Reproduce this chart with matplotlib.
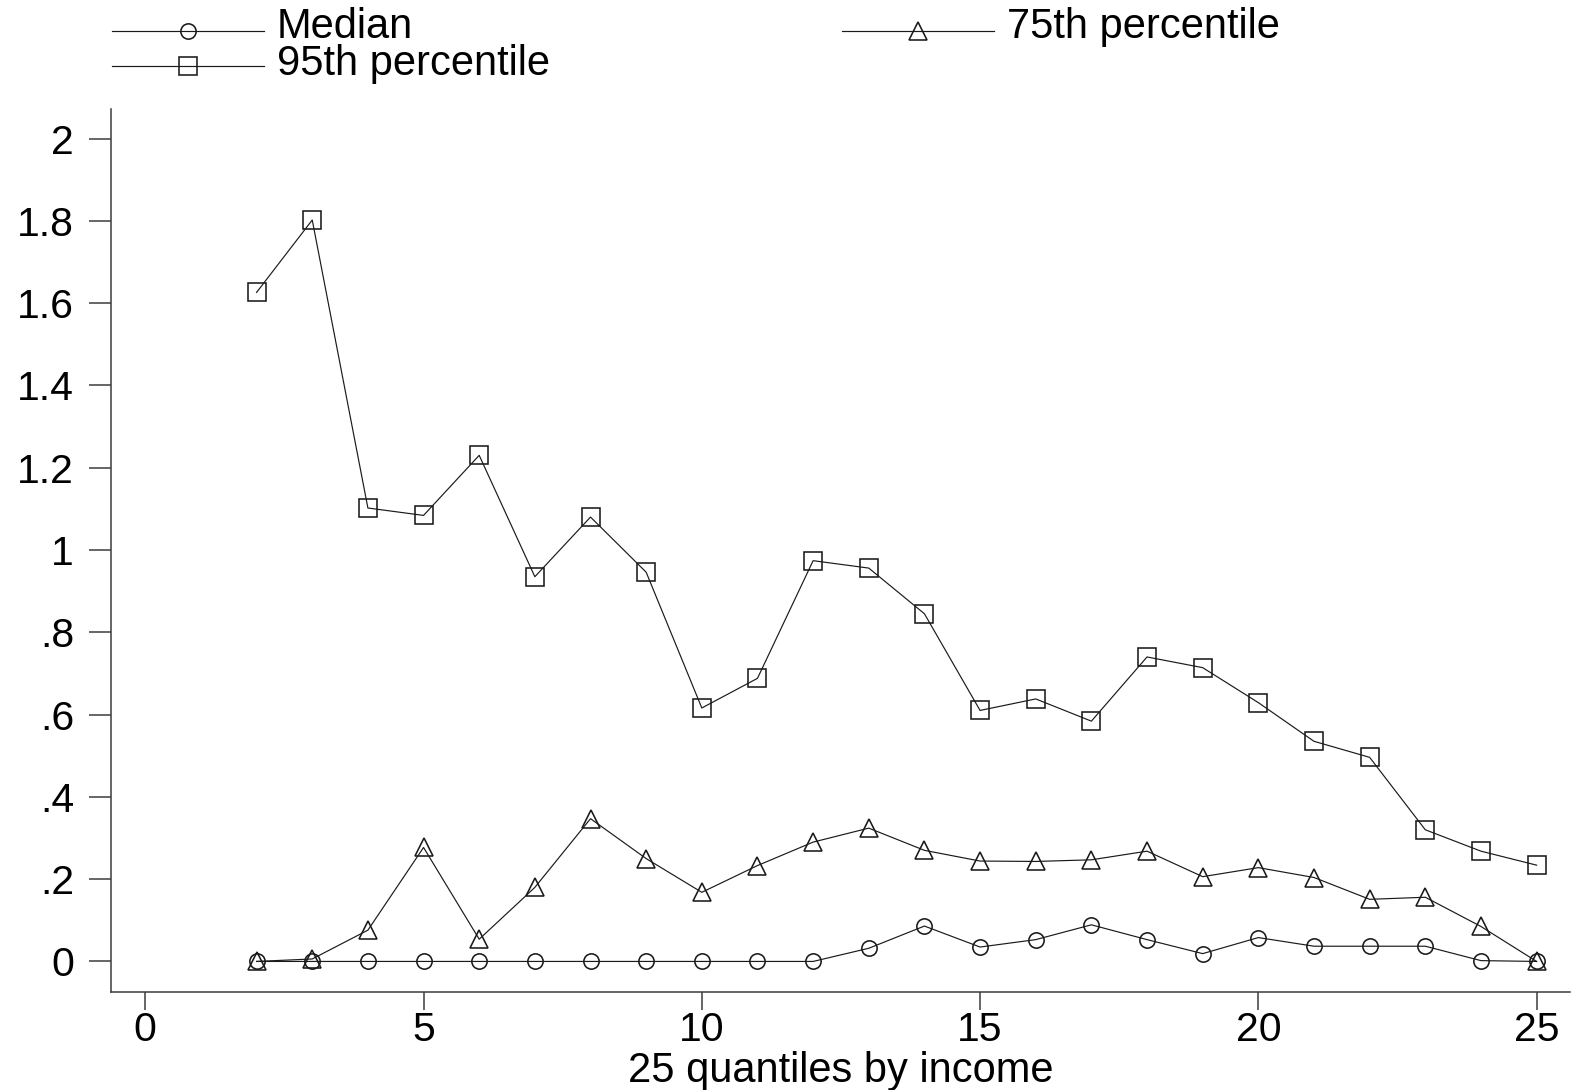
import numpy as np
import matplotlib
matplotlib.use("Agg")
import matplotlib.pyplot as plt
from matplotlib.lines import Line2D

plt.rcParams['font.family'] = ['Liberation Sans', 'DejaVu Sans']

# data
quantile = [2, 3, 4, 5, 6, 7, 8, 9, 10, 11, 12, 13, 14,
            15, 16, 17, 18, 19, 20, 21, 22, 23, 24, 25]
median = [0, 0, 0, 0, 0, 0, 0, 0, 0, 0, 0, 0.032, 0.086,
          0.035, 0.053, 0.089, 0.053, 0.019, 0.058, 0.037, 0.037, 0.037, 0.002, 0]
p75 = [0, 0.006, 0.076, 0.277, 0.054, 0.180, 0.347, 0.250, 0.168, 0.233, 0.290, 0.324, 0.270,
       0.244, 0.243, 0.247, 0.268, 0.206, 0.228, 0.204, 0.151, 0.156, 0.085, 0]
p95 = [1.626, 1.802, 1.102, 1.084, 1.230, 0.935, 1.080, 0.946, 0.616, 0.688, 0.974, 0.956, 0.845,
       0.610, 0.638, 0.584, 0.740, 0.714, 0.629, 0.535, 0.496, 0.320, 0.268, 0.234]

yticks = [0, 0.2, 0.4, 0.6, 0.8, 1, 1.2, 1.4, 1.6, 1.8, 2]
ytick_labels = ['0', '.2', '.4', '.6', '.8', '1', '1.2', '1.4', '1.6', '1.8', '2']
xticks = [0, 5, 10, 15, 20, 25]

ink = '#1a1a1a'
spine_col = '#3c3c3c'
fs_tick = 29.5
fs_text = 30

W, H = 1579, 1090
fig = plt.figure(figsize=(W/100, H/100), dpi=100)
ax = fig.add_axes([111/W, 1 - 992.3/H, (1570 - 111)/W, (992.3 - 109.3)/H])

common = dict(color=ink, lw=0.85, markerfacecolor='none', markeredgecolor=ink, mew=1.15)
ax.plot(quantile, median, marker='o', ms=11, **common)
ax.plot(quantile, p75, marker='^', ms=13, **common)
ax.plot(quantile, p95, marker='s', ms=13, **common)

ax.set_xlim(-0.616, 25.6)
ax.set_ylim(-0.075, 2.071)
ax.set_xticks(xticks)
ax.set_xticklabels([str(t) for t in xticks])
ax.set_yticks(yticks)
ax.set_yticklabels(ytick_labels)

for s in ['top', 'right']:
    ax.spines[s].set_visible(False)
for s in ['left', 'bottom']:
    ax.spines[s].set_color(spine_col)
    ax.spines[s].set_linewidth(1.1)

ax.tick_params(axis='y', length=15.6, width=1.1, color=spine_col, pad=11, labelsize=fs_tick)
ax.tick_params(axis='x', length=12.7, width=1.1, color=spine_col, pad=1, labelsize=fs_tick)
ax.set_xlabel('25 quantiles by income', fontsize=fs_text, labelpad=1)

# legend drawn by hand (Stata layout: key line, marker in middle, label to the right)
def add_entry(label, marker, ms, x0, yline, ybase):
    x1 = x0 + 152
    fig.add_artist(Line2D([x0/W, x1/W], [1 - yline/H, 1 - yline/H],
                          transform=fig.transFigure, color=ink, lw=0.85))
    fig.add_artist(Line2D([(x0 + x1)/2/W], [1 - yline/H], transform=fig.transFigure,
                          marker=marker, ms=ms, ls='none', markerfacecolor='none',
                          markeredgecolor=ink, mew=1.15))
    fig.text((x1 + 13)/W, 1 - ybase/H, label, fontsize=fs_text, va='baseline', ha='left')

add_entry('Median', 'o', 11, 112, 30.7, 38.3)
add_entry('95th percentile', 's', 13, 112, 66, 74.5)
add_entry('75th percentile', '^', 13, 842, 30.7, 38.3)

fig.savefig('out.png', dpi=100)
